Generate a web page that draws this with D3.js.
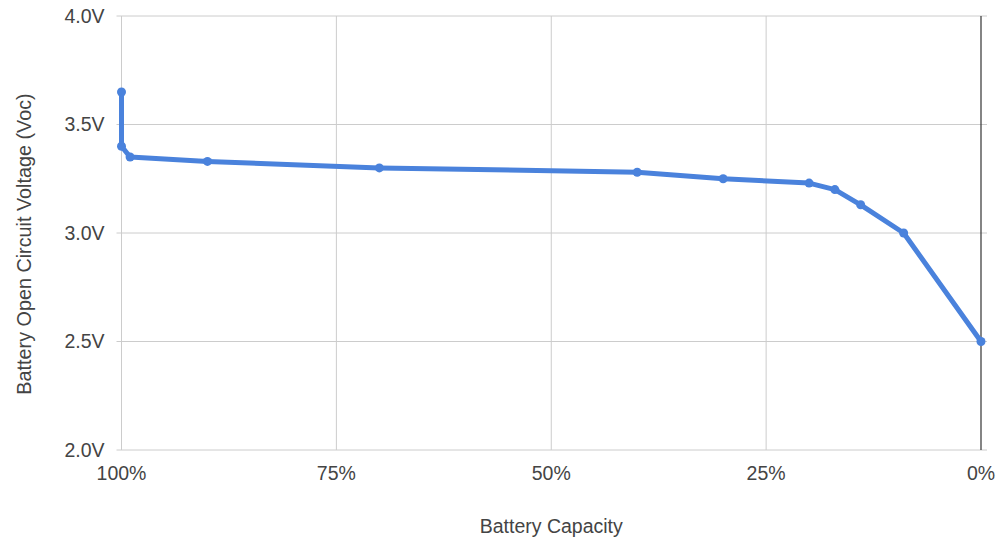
<!DOCTYPE html>
<html>
<head>
<meta charset="utf-8">
<script src="https://cdn.jsdelivr.net/npm/d3@7"></script>
<style>
  html, body { margin: 0; padding: 0; background: #fff; }
  svg { display: block; }
  text { font-family: "Liberation Sans", Arial, sans-serif; fill: #444; }
</style>
</head>
<body>
<svg id="chart" width="998" height="542"></svg>
<script>
// Data
const capacity = [100, 100, 99, 90, 70, 40, 30, 20, 17, 14, 9, 0];        // Battery Capacity (%)
const voltage  = [3.65, 3.40, 3.35, 3.33, 3.30, 3.28, 3.25, 3.23, 3.20, 3.13, 3.00, 2.50]; // Voc (V)
const xTicks = [100, 75, 50, 25, 0];
const yTicks = [2.0, 2.5, 3.0, 3.5, 4.0];
const xTitle = "Battery Capacity";
const yTitle = "Battery Open Circuit Voltage (Voc)";

(function () {
const svg = d3.select("#chart");
const pLeft = 121.5, pRight = 981, pTop = 16, pBottom = 450;

const x = d3.scaleLinear().domain([100, 0]).range([pLeft, pRight]);
const y = d3.scaleLinear().domain([2, 4]).range([pBottom, pTop]);

const points = capacity.map((c, i) => ({ c, v: voltage[i] }));

// horizontal gridlines
svg.append("g").selectAll("line").data(yTicks).join("line")
  .attr("x1", pLeft - 5).attr("x2", pRight + 6)
  .attr("y1", d => y(d)).attr("y2", d => y(d))
  .attr("stroke", "#cccccc").attr("stroke-width", 1);

// vertical gridlines
svg.append("g").selectAll("line").data(xTicks.filter(d => d !== 0)).join("line")
  .attr("x1", d => x(d)).attr("x2", d => x(d))
  .attr("y1", pTop).attr("y2", pBottom)
  .attr("stroke", "#cccccc").attr("stroke-width", 1);

// baseline at 0%
svg.append("line")
  .attr("x1", x(0)).attr("x2", x(0)).attr("y1", pTop).attr("y2", pBottom)
  .attr("stroke", "#333333").attr("stroke-width", 1.2);

// y tick labels
svg.append("g").selectAll("text").data(yTicks).join("text")
  .attr("x", pLeft - 17).attr("y", d => y(d))
  .attr("dy", "0.35em")
  .attr("text-anchor", "end")
  .style("font-size", "19.5px")
  .text(d => d3.format(".1f")(d) + "V");

// x tick labels
svg.append("g").selectAll("text").data(xTicks).join("text")
  .attr("x", d => x(d)).attr("y", 480)
  .attr("text-anchor", "middle")
  .style("font-size", "19.5px")
  .text(d => d + "%");

// axis titles
svg.append("text")
  .attr("x", (pLeft + pRight) / 2).attr("y", 533)
  .attr("text-anchor", "middle")
  .style("font-size", "19.5px")
  .text(xTitle);

svg.append("text")
  .attr("transform", `translate(31, ${(pTop + pBottom) / 2 + 11}) rotate(-90)`)
  .attr("text-anchor", "middle")
  .style("font-size", "19.8px")
  .text(yTitle);

// line
const line = d3.line().x(d => x(d.c)).y(d => y(d.v));
svg.append("path").datum(points)
  .attr("d", line)
  .attr("fill", "none")
  .attr("stroke", "#4a82dc")
  .attr("stroke-width", 5)
  .attr("stroke-linejoin", "round")
  .attr("stroke-linecap", "round");

svg.append("g").selectAll("circle").data(points).join("circle")
  .attr("cx", d => x(d.c)).attr("cy", d => y(d.v))
  .attr("r", 4.5)
  .attr("fill", "#4a82dc");
})();
</script>
</body>
</html>
